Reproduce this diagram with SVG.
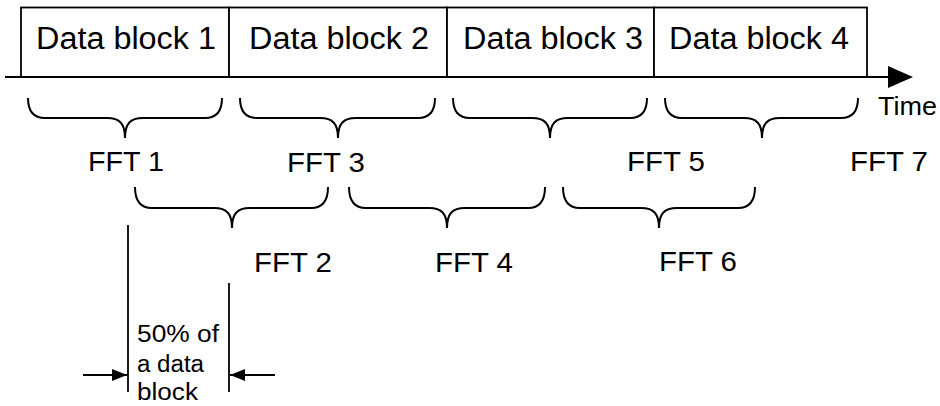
<svg xmlns="http://www.w3.org/2000/svg" width="940" height="406" viewBox="0 0 940 406">
<style>
text{font-family:"Liberation Sans",Arial,sans-serif;fill:#000}
.blk{fill:#fff;stroke:#000;stroke-width:1.8}
.bt{font-size:31px;text-anchor:middle}
.ft{font-size:27px;text-anchor:middle}
.br{fill:none;stroke:#000;stroke-width:2}
.ln{fill:none;stroke:#000;stroke-width:1.8}
.nt{font-size:23px}
</style>
<defs>
<marker id="ah" viewBox="0 0 15 12" refX="15" refY="6" markerWidth="15" markerHeight="12" markerUnits="userSpaceOnUse" orient="auto">
<path d="M0,0 L15,6 L0,12 Z" fill="#000"/>
</marker>
</defs>
<g id="block1"><rect class="blk" x="21" y="7.5" width="208" height="69.5"/><text class="bt" x="126" y="48.5" textLength="180" lengthAdjust="spacingAndGlyphs">Data block 1</text></g>
<g id="block2"><rect class="blk" x="229" y="7.5" width="218" height="69.5"/><text class="bt" x="339" y="48.5" textLength="180" lengthAdjust="spacingAndGlyphs">Data block 2</text></g>
<g id="block3"><rect class="blk" x="447" y="7.5" width="207" height="69.5"/><text class="bt" x="553" y="48.5" textLength="180" lengthAdjust="spacingAndGlyphs">Data block 3</text></g>
<g id="block4"><rect class="blk" x="654" y="7.5" width="213" height="69.5"/><text class="bt" x="759" y="48.5" textLength="180" lengthAdjust="spacingAndGlyphs">Data block 4</text></g>
<g id="axis">
<line class="ln" x1="5" y1="77" x2="890" y2="77" stroke-width="2"/>
<polygon points="888,66 913,77 888,88" fill="#000"/>
<text x="878" y="115" font-size="25" textLength="59" lengthAdjust="spacingAndGlyphs">Time</text>
</g>
<g id="fft1"><path class="br" d="M28,98 Q28,118 45,118 L107,118 C120,118 125,124 125,138 C125,124 130,118 143,118 L205,118 Q222,118 222,98"/><text class="ft" x="126" y="171" textLength="76" lengthAdjust="spacingAndGlyphs">FFT 1</text></g>
<g id="fft3"><path class="br" d="M240,98 Q240,118 257,118 L320,118 C333,118 338,124 338,138 C338,124 343,118 356,118 L418,118 Q435,118 435,98"/><text class="ft" x="326" y="172" textLength="78" lengthAdjust="spacingAndGlyphs">FFT 3</text></g>
<g id="fft5"><path class="br" d="M453,98 Q453,118 470,118 L532,118 C545,118 550,124 550,138 C550,124 555,118 568,118 L630,118 Q647,118 647,98"/><text class="ft" x="666" y="171" textLength="78" lengthAdjust="spacingAndGlyphs">FFT 5</text></g>
<g id="fft7"><path class="br" d="M665,98 Q665,118 682,118 L744,118 C757,118 762,124 762,138 C762,124 767,118 780,118 L841,118 Q858,118 858,98"/><text class="ft" x="889" y="171" textLength="78" lengthAdjust="spacingAndGlyphs">FFT 7</text></g>
<g id="fft2"><path class="br" d="M135,187 Q135,208 152,208 L214,208 C227,208 232,214 232,228 C232,214 237,208 250,208 L311,208 Q328,208 328,187"/><text class="ft" x="293" y="272" textLength="78" lengthAdjust="spacingAndGlyphs">FFT 2</text></g>
<g id="fft4"><path class="br" d="M349,187 Q349,208 366,208 L429,208 C442,208 447,214 447,228 C447,214 452,208 465,208 L528,208 Q545,208 545,187"/><text class="ft" x="474" y="272" textLength="78" lengthAdjust="spacingAndGlyphs">FFT 4</text></g>
<g id="fft6"><path class="br" d="M563,187 Q563,208 580,208 L641,208 C654,208 659,214 659,228 C659,214 664,208 677,208 L738,208 Q755,208 755,187"/><text class="ft" x="698" y="271" textLength="78" lengthAdjust="spacingAndGlyphs">FFT 6</text></g>
<g id="connectors">
<line class="ln" x1="128" y1="225" x2="128" y2="392"/>
<line class="ln" x1="229" y1="283" x2="229" y2="392"/>
<line class="ln" x1="83" y1="375" x2="127" y2="375" marker-end="url(#ah)"/>
<line class="ln" x1="275" y1="375" x2="230" y2="375" marker-end="url(#ah)"/>
</g>
<g id="note">
<text class="nt" x="137" y="342" textLength="82" lengthAdjust="spacingAndGlyphs">50% of</text>
<text class="nt" x="137" y="372" textLength="67" lengthAdjust="spacingAndGlyphs">a data</text>
<text class="nt" x="137" y="400" textLength="61" lengthAdjust="spacingAndGlyphs">block</text>
</g>
</svg>
